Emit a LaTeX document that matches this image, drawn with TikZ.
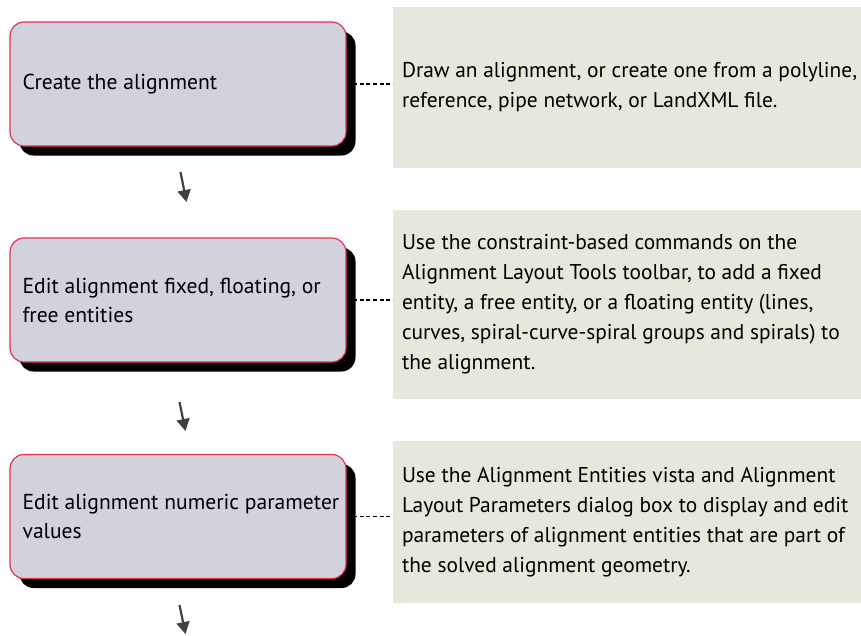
\documentclass[tikz,border=0pt]{standalone}
\usepackage{fontspec}
\setmainfont{PT Sans}
\usetikzlibrary{shadows,arrows.meta}
\definecolor{boxfill}{HTML}{D2D2DF}
\definecolor{boxline}{HTML}{E3334C}
\definecolor{notefill}{HTML}{E5E8DA}
\definecolor{arrowgray}{HTML}{404040}
\tikzset{
  stepbox/.style={draw=boxline, line width=1.2pt, fill=boxfill, rounded corners=14pt,
    minimum width=336pt, minimum height=124pt, inner sep=0pt,
    drop shadow={shadow xshift=9.5pt, shadow yshift=-9.5pt, fill=black, opacity=1}},
  notebox/.style={fill=notefill, draw=none, inner sep=0pt, minimum width=468pt},
  steptext/.style={anchor=west, align=left, inner sep=0pt, font=\fontsize{21.6}{29}\selectfont},
  notetext/.style={anchor=west, align=left, inner sep=0pt, font=\fontsize{21.4}{30}\selectfont},
  link/.style={draw=black, line width=1.2pt, dash pattern=on 4pt off 2.6pt},
  flow/.style={draw=arrowgray, line width=2.2pt, -{Triangle[length=12pt,width=13pt]}}
}
\begin{document}
\begin{tikzpicture}[x=1pt,y=-1pt]
\useasboundingbox (0,0) rectangle (861,635);
% step boxes
\node[stepbox] (b1) at (178,84) {};
\node[stepbox] (b2) at (178,300) {};
\node[stepbox] (b3) at (178,516.5) {};
\node[steptext, xshift=13pt] (t1) at (b1.west) {Create the alignment};
\node[steptext, xshift=13pt] (t2) at (b2.west) {Edit alignment fixed, floating, or\\free entities};
\node[steptext, xshift=13pt] (t3) at (b3.west) {Edit alignment numeric parameter\\values};
% note boxes
\node[notebox, minimum height=161pt] (g1) at (627,87.5) {};
\node[notebox, minimum height=189pt] (g2) at (627,304.5) {};
\node[notebox, minimum height=162pt] (g3) at (627,522) {};
\node[notetext, xshift=9pt] (n1) at (g1.west) {Draw an alignment, or create one from a polyline,\\reference, pipe network, or LandXML file.};
\node[notetext, xshift=9pt] (n2) at (g2.west) {Use the constraint-based commands on the\\Alignment Layout Tools toolbar, to add a fixed\\entity, a free entity, or a floating entity (lines,\\curves, spiral-curve-spiral groups and spirals) to\\the alignment.};
\node[notetext, xshift=9pt] (n3) at (g3.west) {Use the Alignment Entities vista and Alignment\\Layout Parameters dialog box to display and edit\\parameters of alignment entities that are part of\\the solved alignment geometry.};
% dashed links
\draw[link] (b1.east) -- (b1.east -| g1.west);
\draw[link] (b2.east) -- (b2.east -| g2.west);
\draw[link] (b3.east) -- (b3.east -| g3.west);
% flow arrows
\coordinate (a1s) at (180.5,172);
\coordinate (a1e) at (186.5,202);
\coordinate (a2s) at (179.5,402);
\coordinate (a2e) at (185.5,431);
\coordinate (a3s) at (179.5,605);
\coordinate (a3e) at (185.5,634);
\draw[flow] (a1s) -- (a1e);
\draw[flow] (a2s) -- (a2e);
\draw[flow] (a3s) -- (a3e);
\end{tikzpicture}
\end{document}
